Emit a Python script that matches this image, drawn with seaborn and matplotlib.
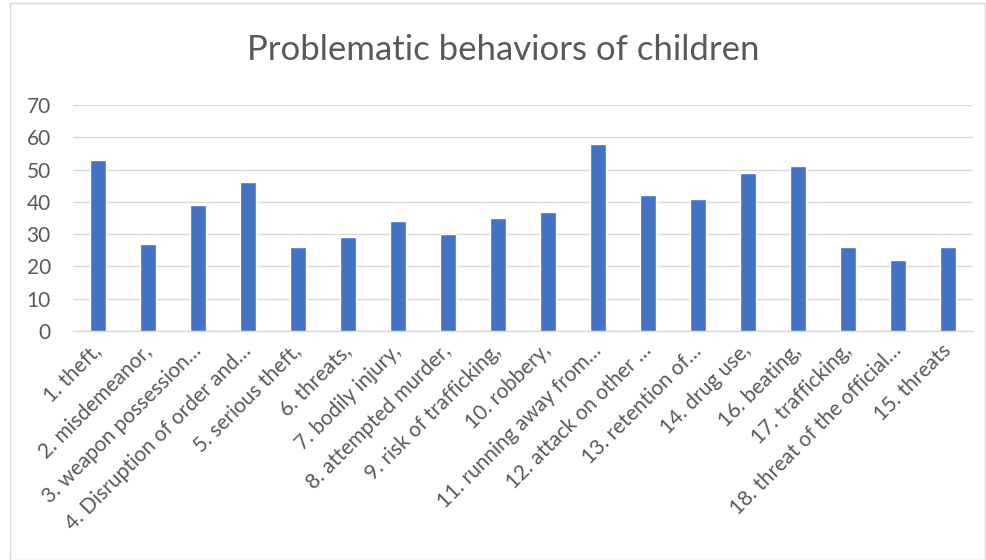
import matplotlib
matplotlib.use("Agg")
import matplotlib.pyplot as plt
import seaborn as sns
import pandas as pd
from matplotlib.patches import Rectangle

categories = [
    "1. theft,", "2. misdemeanor,", "3. weapon possession…", "4. Disruption of order and…",
    "5. serious theft,", "6. threats,", "7. bodily injury,", "8. attempted murder,",
    "9. risk of trafficking,", "10. robbery,", "11. running away from…", "12. attack on other …",
    "13. retention of…", "14. drug use,", "16. beating,", "17. trafficking,",
    "18. threat of the official…", "15. threats",
]
values = [53, 27, 39, 46, 26, 29, 34, 30, 35, 37, 58, 42, 41, 49, 51, 26, 22, 26]
y_ticks = [0, 10, 20, 30, 40, 50, 60, 70]

df = pd.DataFrame({"behavior": categories, "count": values})

sns.set_style("white")
plt.rcParams["font.family"] = ["Lato", "DejaVu Sans"]

fig = plt.figure(figsize=(9.87, 5.6), dpi=100)
ax = fig.add_axes([73 / 987, 1 - 331 / 560, 900 / 987, 226 / 560])

sns.barplot(data=df, x="behavior", y="count", color="#4472C4", width=0.32,
            saturation=1, ax=ax, zorder=3)

text_color = "#595959"
ax.set_ylim(0, 70)
ax.set_yticks(y_ticks)
ax.set_xlim(-0.5, len(categories) - 0.5)
ax.grid(axis="y", color="#D9D9D9", linewidth=1, zorder=0)
for s in ["top", "right", "left"]:
    ax.spines[s].set_visible(False)
ax.spines["bottom"].set_color("#D9D9D9")
ax.spines["bottom"].set_linewidth(1)
ax.tick_params(axis="both", length=0, labelsize=15, colors=text_color)
ax.tick_params(axis="y", pad=16)
ax.tick_params(axis="x", pad=12)
plt.setp(ax.get_xticklabels(), rotation=45, ha="right", va="center", rotation_mode="anchor")
ax.set_xlabel("")
ax.set_ylabel("")

fig.text(503 / 987, 1 - 50 / 560, "Problematic behaviors of children", ha="center", va="center",
         fontsize=25, color=text_color)

fig.patches.append(Rectangle((10 / 987, 0), 975 / 987, 1 - 3 / 560, transform=fig.transFigure,
                             fill=False, edgecolor="#D9D9D9", linewidth=1))

fig.savefig("out.png", dpi=100, facecolor="white")
